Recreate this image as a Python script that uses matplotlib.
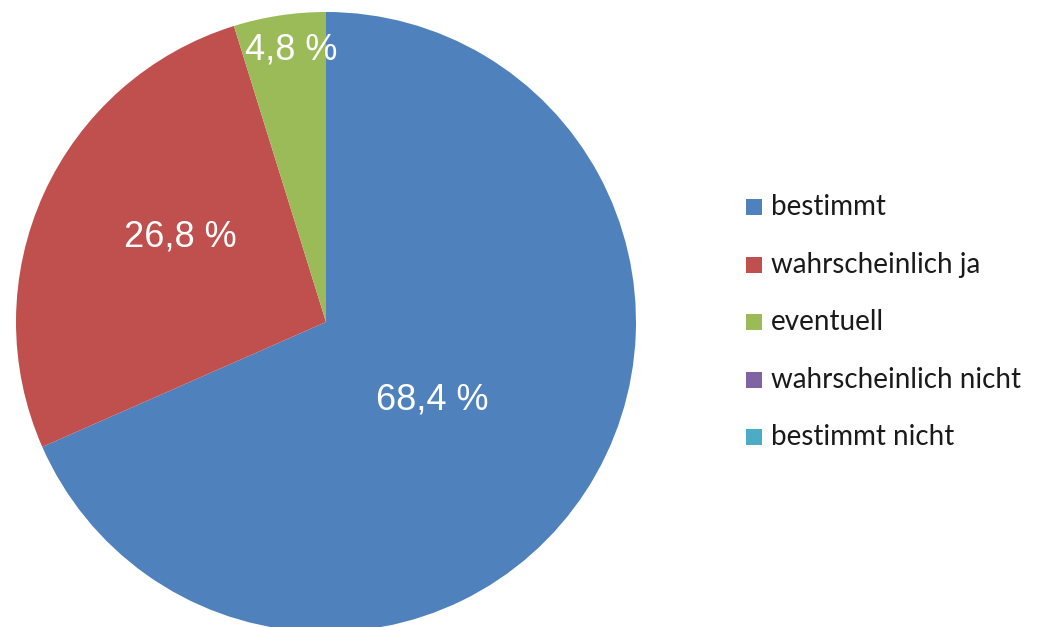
import matplotlib
matplotlib.use("Agg")
import matplotlib.pyplot as plt
from matplotlib.patches import Rectangle

categories = ["bestimmt", "wahrscheinlich ja", "eventuell", "wahrscheinlich nicht", "bestimmt nicht"]
values = [68.4, 26.8, 4.8, 0.0, 0.0]
colors = ["#4F81BD", "#C0504D", "#9BBB59", "#8064A2", "#4BACC6"]
labels = ["68,4 %", "26,8 %", "4,8 %"]

W, H = 1039, 627
fig = plt.figure(figsize=(W / 100, H / 100), dpi=100)
ax = fig.add_axes([0, 0, 1, 1])

cx, cy, r = 326, 627 - 322, 310
nz = [(v, c) for v, c in zip(values, colors) if v > 0]
wedges, _ = ax.pie([v for v, _ in nz], colors=[c for _, c in nz], startangle=90,
                   counterclock=False, center=(cx, cy), radius=r, frame=True)
ax.set_xlim(0, W)
ax.set_ylim(0, H)
ax.set_aspect("equal")
ax.axis("off")

label_pos = [(432, 627 - 400), (180, 627 - 237), (291, 627 - 50)]
for (x, y), t in zip(label_pos, labels):
    ax.text(x, y, t, ha="center", va="center", color="white", fontsize=26,
            family="Liberation Sans")

# legend
y0, dy = 207, 57.5
for i, (cat, col) in enumerate(zip(categories, colors)):
    y = y0 + i * dy
    ax.add_patch(Rectangle((746, 627 - y - 8), 16, 16, facecolor=col, edgecolor="none"))
    ax.text(771, 627 - y, cat, ha="left", va="center", fontsize=20, family="Lato",
            color="#1a1a1a")

fig.savefig("out.png", dpi=100)
